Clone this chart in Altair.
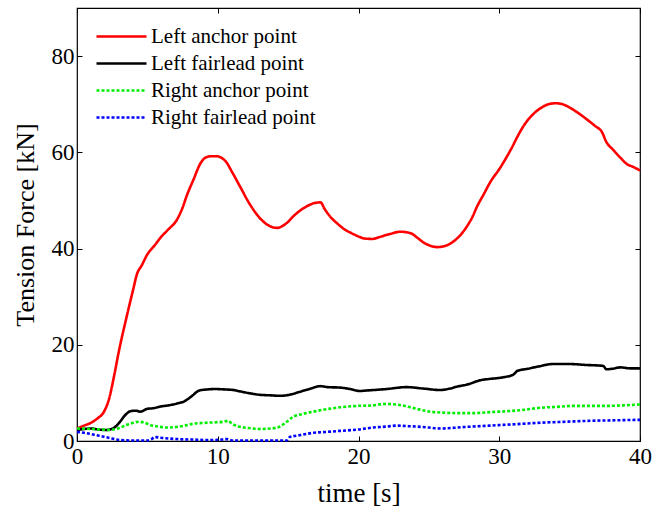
import altair as alt
import pandas as pd

SERIES = ["Left anchor point", "Left fairlead point", "Right anchor point", "Right fairlead point"]
COLORS = ["#ff0000", "#000000", "#00ee00", "#0000ff"]

t_la = [0, 0.5, 1.0, 1.5, 1.9, 2.3, 2.6, 3.0, 3.5, 4.0,
        4.25, 4.6, 5.0, 5.5, 6.0, 6.5, 7.1, 7.5, 7.8, 8.3,
        8.75, 9.2, 9.6, 9.9, 10.3, 10.6, 11.0, 11.6, 12.2, 12.8,
        13.5, 14.2, 14.9, 15.4, 15.9, 16.4, 16.8, 17.3, 17.6, 18.0,
        18.5, 18.9, 19.5, 20.1, 20.4, 21.0, 21.5, 22.2, 23.0, 23.7,
        24.2, 24.6, 25.1, 25.6, 26.2, 26.8, 27.3, 27.7, 28.1, 28.4,
        28.9, 29.4, 30.0, 30.5, 30.9, 31.3, 31.8, 32.4, 33.0, 33.5,
        34.0, 34.5, 35.0, 35.6, 36.2, 36.8, 37.3, 37.6, 38.1, 38.6,
        39.1, 39.5, 40.0]
f_la = [2.6, 3.2, 3.8, 4.8, 6.0, 9.0, 13.0, 19.0, 25.5, 31.6,
        34.6, 36.5, 38.8, 40.6, 42.5, 44.0, 46.0, 48.5, 51.0, 54.5,
        57.6, 59.0, 59.2, 59.2, 58.8, 58.0, 56.0, 52.8, 49.6, 47.0,
        45.0, 44.3, 45.3, 46.8, 48.0, 48.9, 49.4, 49.6, 48.2, 46.6,
        45.2, 44.2, 43.2, 42.4, 42.1, 42.0, 42.4, 43.0, 43.5, 43.2,
        42.2, 41.3, 40.6, 40.3, 40.6, 41.6, 43.0, 44.6, 46.6, 48.6,
        51.3, 54.0, 56.5, 58.9, 61.0, 63.3, 65.8, 67.9, 69.3, 70.0,
        70.2, 70.0, 69.3, 68.2, 66.9, 65.5, 64.2, 62.2, 60.5, 58.9,
        57.5, 57.0, 56.2]

t_lf = [0, 0.5, 1.0, 1.5, 2.1, 2.6, 3.0, 3.4, 3.8, 4.2,
        4.5, 5.0, 5.4, 6.0, 6.5, 7.1, 7.6, 8.1, 8.7, 9.2,
        9.8, 10.6, 11.1, 11.6, 12.3, 13.0, 13.7, 14.4, 15.1, 15.8,
        16.5, 17.3, 17.8, 18.7, 19.4, 20.1, 20.6, 21.1, 22.0, 23.4,
        24.6, 25.8, 26.5, 27.0, 27.8, 28.6, 29.3, 30.2, 31.0, 31.3,
        32.0, 32.8, 33.8, 35.0, 36.2, 37.0, 37.4, 37.6, 38.0, 38.6,
        39.3, 40.0]
f_lf = [2.3, 2.5, 2.6, 2.4, 2.3, 2.7, 3.8, 5.3, 6.2, 6.3,
        6.1, 6.7, 6.8, 7.2, 7.4, 7.8, 8.2, 9.2, 10.5, 10.7,
        10.8, 10.7, 10.6, 10.3, 9.9, 9.6, 9.5, 9.4, 9.6, 10.2,
        10.8, 11.4, 11.2, 11.1, 10.8, 10.4, 10.5, 10.6, 10.8, 11.2,
        10.9, 10.6, 10.9, 11.3, 11.8, 12.6, 12.9, 13.2, 13.8, 14.6,
        15.0, 15.5, 16.0, 16.0, 15.8, 15.7, 15.6, 14.9, 15.0, 15.3,
        15.1, 15.1]

t_ra = [0, 1.0, 2.35, 3.0, 3.5, 4.0, 4.4, 4.8, 5.2, 5.8,
        6.4, 7.3, 8.3, 9.2, 9.9, 10.4, 10.75, 11.0, 11.4, 12.2,
        13.0, 13.8, 14.4, 14.9, 15.4, 16.0, 16.8, 17.7, 18.7, 19.9,
        21.0, 21.8, 22.9, 23.7, 24.4, 25.1, 26.0, 27.0, 28.2, 29.4,
        30.6, 31.8, 32.9, 34.1, 35.3, 36.5, 37.6, 38.8, 40.0]
f_ra = [2.6, 2.5, 2.3, 2.7, 3.3, 3.8, 4.0, 3.8, 3.3, 3.0,
        2.8, 3.0, 3.6, 3.8, 3.9, 4.0, 4.2, 3.6, 3.1, 2.7,
        2.5, 2.6, 3.0, 4.0, 5.1, 5.6, 6.1, 6.6, 7.0, 7.3,
        7.4, 7.7, 7.5, 7.0, 6.5, 6.1, 5.9, 5.8, 5.8, 6.0,
        6.2, 6.5, 6.9, 7.1, 7.3, 7.3, 7.3, 7.4, 7.6]

t_rf = [0, 0.5, 0.9, 1.4, 1.9, 2.5, 3.05, 4.0, 4.95, 5.3,
        5.5, 6.2, 7.1, 8.2, 9.45, 10.3, 10.6, 11.1, 12.5, 13.8,
        14.9, 15.1, 15.8, 16.8, 17.8, 18.7, 20.0, 21.05, 22.0, 22.7,
        23.4, 24.1, 25.0, 25.8, 27.5, 29.35, 31.2, 32.9, 34.7, 36.5,
        38.2, 40.0]
f_rf = [1.9, 1.7, 1.5, 1.2, 0.9, 0.5, 0.2, 0.1, 0.1, 0.4,
        0.8, 0.6, 0.4, 0.3, 0.2, 0.3, 0.4, 0.1, 0.1, 0.1,
        0.1, 0.8, 1.2, 1.7, 1.9, 2.1, 2.4, 2.8, 3.0, 3.2,
        3.1, 3.0, 2.8, 2.6, 2.9, 3.2, 3.5, 3.8, 4.0, 4.2,
        4.3, 4.4]

X_TICKS = [0, 10, 20, 30, 40]
Y_TICKS = [0, 20, 40, 60, 80]

frames = []
for name, ts, fs in zip(SERIES, [t_la, t_lf, t_ra, t_rf], [f_la, f_lf, f_ra, f_rf]):
    n = min(len(ts), len(fs))
    frames.append(pd.DataFrame({"t": ts[:n], "f": fs[:n], "series": name}))
df = pd.concat(frames, ignore_index=True)

FONT = "Liberation Serif"
xscale = alt.Scale(domain=[0, 40], nice=False, zero=False)
yscale = alt.Scale(domain=[0, 90], nice=False)

lines = alt.Chart(df).mark_line(strokeWidth=2.6, interpolate="monotone").encode(
    x=alt.X("t:Q", scale=xscale, title="time [s]",
            axis=alt.Axis(values=X_TICKS, grid=False, domain=False, tickSize=5, offset=-5,
                          labelFlush=False, labelPadding=4, labelFontSize=23,
                          titleFontSize=27, titleY=65, titleBaseline="alphabetic")),
    y=alt.Y("f:Q", scale=yscale, title="Tension Force [kN]",
            axis=alt.Axis(values=Y_TICKS, grid=False, domain=False, tickSize=5, offset=-5,
                          labelFlush=False, labelPadding=3, labelFontSize=23,
                          titleFontSize=26, titleX=-57, titleBaseline="middle")),
    color=alt.Color("series:N", scale=alt.Scale(domain=SERIES, range=COLORS),
                    sort=SERIES,
                    legend=alt.Legend(title=None, orient="none", legendX=34, legendY=18,
                                      symbolType="M-5,0H5", symbolSize=100,
                                      symbolStrokeWidth=2.6, labelFont=FONT,
                                      labelFontSize=21, labelOffset=19, rowPadding=5,
                                      labelLimit=400, padding=0, labelColor="#000")),
    strokeDash=alt.StrokeDash("series:N",
                              scale=alt.Scale(domain=SERIES,
                                              range=[[1, 0], [1, 0], [3, 2], [3, 2]]),
                              sort=SERIES, legend=None),
)

mirror = alt.Chart(df).mark_line(opacity=0).encode(
    x=alt.X("t:Q", scale=xscale, title="",
            axis=alt.Axis(orient="top", values=X_TICKS, grid=False, domain=False,
                          labels=False, tickSize=5, offset=-5)),
    y=alt.Y("f:Q", scale=yscale, title="",
            axis=alt.Axis(orient="right", values=Y_TICKS, grid=False, domain=False,
                          labels=False, tickSize=5, offset=-5)),
)

chart = alt.layer(lines, mirror).resolve_axis(x="independent", y="independent").properties(
    width=563, height=433,
    autosize=alt.AutoSizeParams(type="none"),
    padding={"left": 77, "top": 8, "right": 13, "bottom": 69},
).configure(font=FONT).configure_view(
    stroke="#000", strokeWidth=1.2
).configure_axis(
    labelFont=FONT, titleFont=FONT, labelColor="#000", titleColor="#000",
    tickColor="#000", titleFontWeight="normal", tickWidth=1
)

chart.save("out.html", embed_options={"renderer": "svg", "actions": False})
